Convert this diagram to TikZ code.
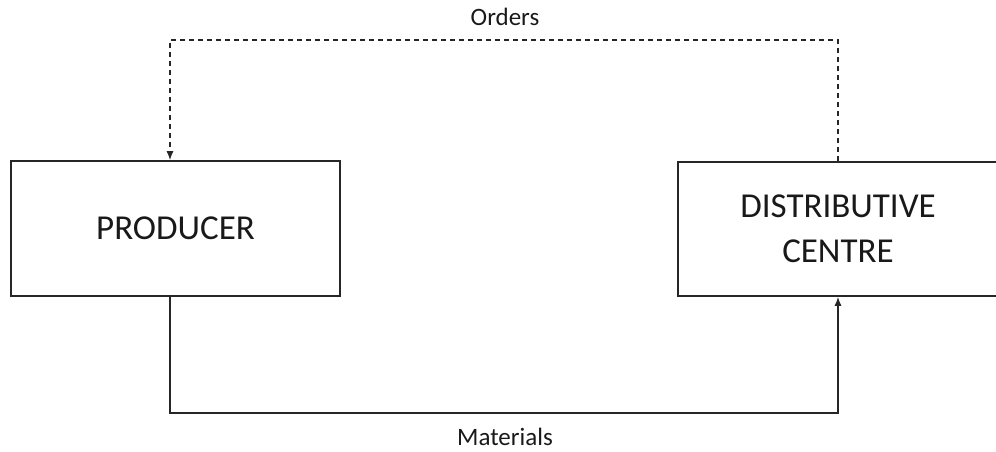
\documentclass[tikz,border=0pt]{standalone}
\usepackage{fontspec}
\setmainfont{Carlito}
\usetikzlibrary{arrows.meta}
\begin{document}
\begin{tikzpicture}[x=1pt,y=-1pt,
  box/.style={draw=black!85,line width=1.6pt,rectangle,inner sep=0pt,font=\fontsize{35}{45}\selectfont,text=black!90,align=center},
  lbl/.style={font=\fontsize{25}{30}\selectfont,text=black!90,inner sep=0pt},
  flow/.style={draw=black!85,line width=1.3pt,-{Latex[length=9pt,width=7pt]}},
  ordflow/.style={flow,dash pattern=on 5pt off 4pt}]
\useasboundingbox (0,0) rectangle (996,452);
\node[box,minimum width=329pt,minimum height=135pt] (prod) at (175.5,228.5) {PRODUCER};
\node[box,minimum width=320pt,minimum height=134pt] (dc) at (838,229) {DISTRIBUTIVE\\CENTRE};
\node[lbl] (ord) at (505,17) {Orders};
\node[lbl] (mat) at (505,437) {Materials};
\coordinate (xl) at (170,0);
\coordinate (top) at (0,40);
\coordinate (bot) at (0,413);
\draw[ordflow] (dc.north) -- (dc.north |- top) -- (xl |- top) -- (prod.north -| xl);
\draw[flow] (prod.south -| xl) -- (xl |- bot) -- (dc.south |- bot) -- (dc.south);
\end{tikzpicture}
\end{document}
